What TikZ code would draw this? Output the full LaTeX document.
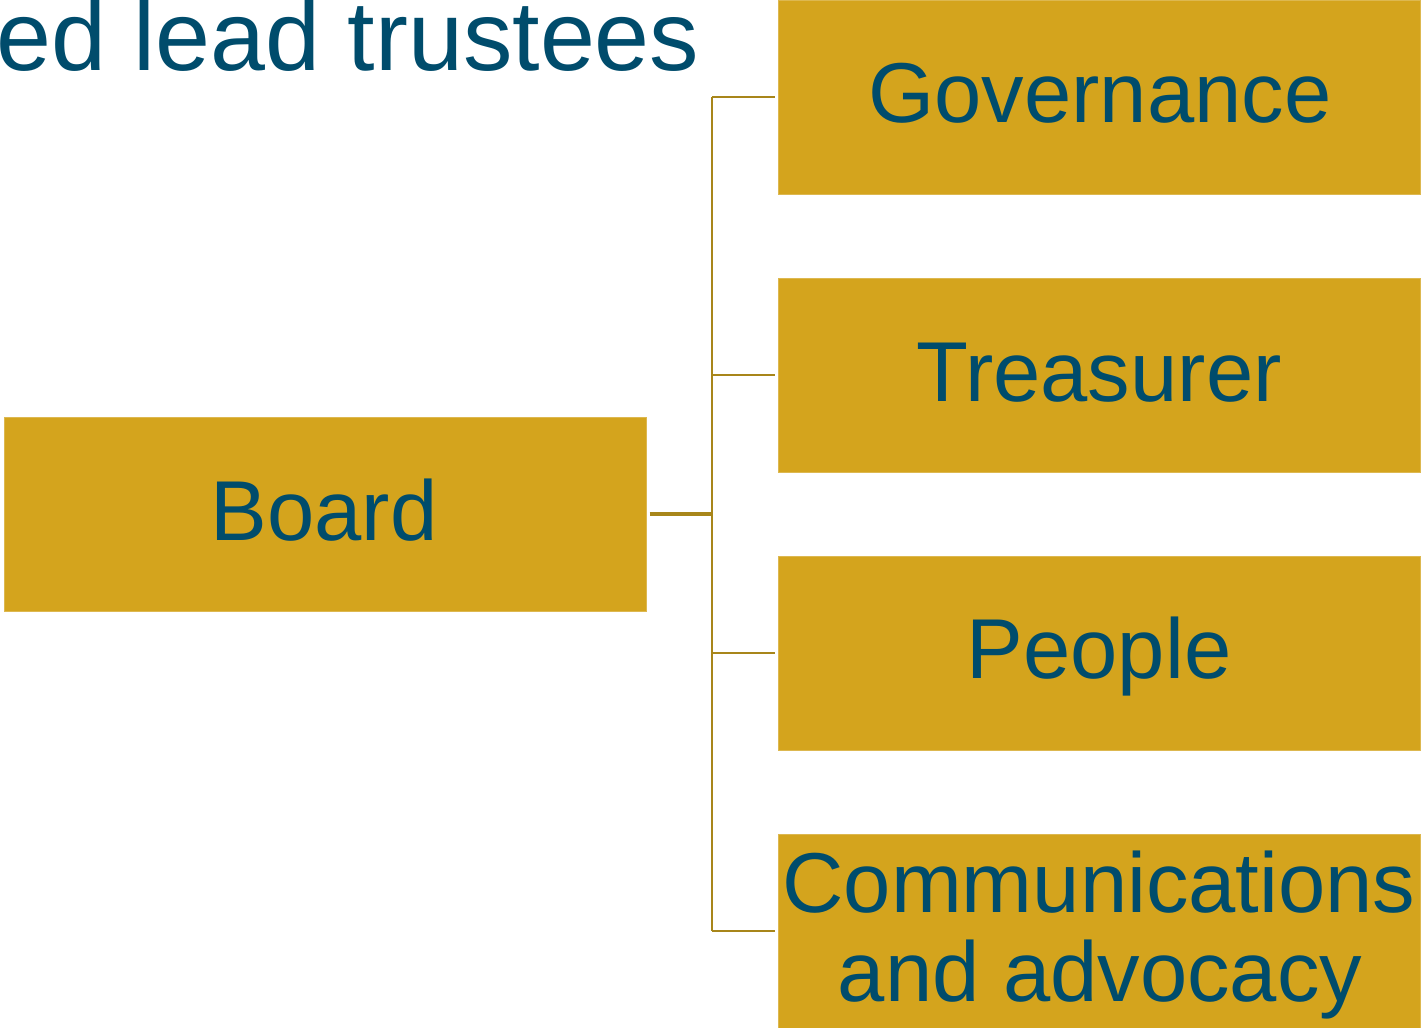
\documentclass[tikz,border=0pt]{standalone}
\usepackage{fontspec}
\setmainfont{Liberation Sans}
\definecolor{boxgold}{HTML}{D4A41D}
\definecolor{linegold}{HTML}{A8861A}
\definecolor{textblue}{HTML}{004C6C}
\definecolor{edgegold}{HTML}{DDB850}
\begin{document}
\begin{tikzpicture}[x=0.5pt,y=-0.5pt,
  box/.style={fill=boxgold,draw=edgegold,line width=0.5pt,inner sep=0pt,
    minimum width=321pt,minimum height=97pt},
  lbl/.style={anchor=base,inner sep=0pt,text=textblue,
    font=\fontsize{42.5}{44.5}\selectfont},
  conn/.style={draw=linegold,line width=1pt}]
\useasboundingbox (0,0) rectangle (1422,1027);
\clip (0,0) rectangle (1422,1027);
% title fragment
\node[anchor=base west,inner sep=0pt,text=textblue,
  font=\fontsize{49.4}{52}\selectfont] (title) at (-4,71) {ed lead trustees};
% boxes
\node[box] (board) at (325,514) {};
\node[box] (gov) at (1099,98) {};
\node[box] (tre) at (1099,375) {};
\node[box] (peo) at (1099,653) {};
\node[box] (com) at (1099,931) {};
% labels
\node[lbl] (lboard) at (324,540) {Board};
\node[lbl] (lgov) at (1100,123) {Governance};
\node[lbl] (ltre) at (1099,401) {Treasurer};
\node[lbl] (lpeo) at (1099,678) {People};
\node[lbl] (lcom1) at (1099,912) {Communications};
\node[lbl] (lcom2) at (1100,1001) {and advocacy};
% connectors
\coordinate (j) at (712,514);
\coordinate (t1) at (712,97);
\coordinate (t2) at (712,375);
\coordinate (t3) at (712,653);
\coordinate (t4) at (712,931);
\draw[conn,line width=2pt,shorten <=1.5pt] (board.east) -- (j);
\draw[conn] (t1) -- (t4);
\draw[conn,shorten >=1.5pt] (t1) -- (t1 -| gov.west);
\draw[conn,shorten >=1.5pt] (t2) -- (t2 -| tre.west);
\draw[conn,shorten >=1.5pt] (t3) -- (t3 -| peo.west);
\draw[conn,shorten >=1.5pt] (t4) -- (t4 -| com.west);
\end{tikzpicture}
\end{document}
